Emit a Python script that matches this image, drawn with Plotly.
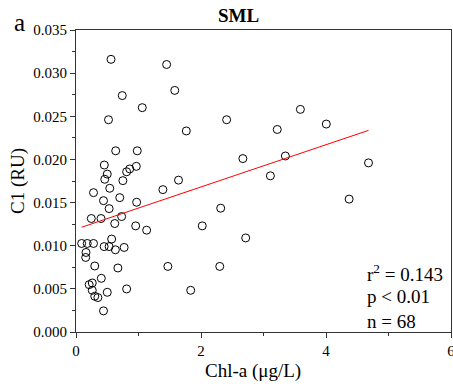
import plotly.graph_objects as go

# Chl-a (µg/L)
chla = [0.56, 1.45, 0.74, 1.58, 1.06, 0.52, 1.765, 0.635, 0.98, 0.453,
        0.50, 0.46, 0.81, 0.86, 0.965, 0.75, 0.54, 0.28, 1.39, 0.44,
        0.70, 0.97, 0.53, 0.245, 0.40, 0.73, 0.62, 0.955, 1.13, 0.09,
        0.18, 0.28, 0.45, 0.53, 0.57, 0.63, 0.77, 0.16, 0.155, 0.30,
        0.67, 0.405, 0.26, 0.21, 0.26, 0.30, 0.35, 0.50, 0.81, 0.44,
        1.64, 2.41, 3.59, 3.22, 4.005, 2.67, 3.35, 4.68, 3.11, 2.315,
        2.02, 2.715, 2.30, 4.37, 1.47, 1.835]
# C1 (RU)
c1 = [0.0316, 0.0310, 0.0274, 0.0280, 0.0260, 0.0246, 0.0233, 0.0210, 0.0210, 0.01935,
      0.0183, 0.0177, 0.01857, 0.0189, 0.0192, 0.01754, 0.01666, 0.01615, 0.0165, 0.01522,
      0.01557, 0.01504, 0.0143, 0.01315, 0.01315, 0.01338, 0.01257, 0.0123, 0.0118, 0.01026,
      0.01026, 0.01026, 0.0099, 0.0099, 0.01077, 0.00953, 0.0098, 0.00922, 0.00864, 0.00765,
      0.00742, 0.00622, 0.00568, 0.00549, 0.00483, 0.00414, 0.00399, 0.0046, 0.00499, 0.00245,
      0.0176, 0.0246, 0.0258, 0.02347, 0.0241, 0.0201, 0.0204, 0.0196, 0.0181, 0.01435,
      0.0123, 0.0109, 0.0076, 0.0154, 0.0076, 0.00483]

# regression line
fit_slope = 0.002446
fit_intercept = 0.01192
fit_x = [min(chla), max(chla)]
fit_y = [fit_intercept + fit_slope * v for v in fit_x]

x_ticks = [0, 2, 4, 6]
stats_lines = ["r<sup>2</sup> = 0.143", "p < 0.01", "n = 68"]
stats_y = [0.00686, 0.00415, 0.00125]

serif = "Liberation Serif, Times New Roman, serif"

W, H = 453, 387
ml, mr, mt, mb = 76, 2, 30, 55
pw, ph = W - ml - mr, H - mt - mb


def px2paper(px, py):
    return (px - ml) / pw, (H - mb - py) / ph


fig = go.Figure()
fig.add_trace(go.Scatter(
    x=chla, y=c1, mode="markers",
    marker=dict(symbol="circle-open", size=8, color="black", line=dict(width=1, color="black")),
    showlegend=False, cliponaxis=False))
fig.add_trace(go.Scatter(
    x=fit_x, y=fit_y, mode="lines",
    line=dict(color="red", width=1), showlegend=False))

tickfont = dict(family=serif, size=15, color="black")
axis_common = dict(showline=True, linecolor="#333", linewidth=1, mirror=True,
                   showgrid=False, zeroline=False, ticks="outside", ticklen=5,
                   tickcolor="#333", automargin=False, ticklabeloverflow="allow")

fig.update_layout(
    xaxis=dict(range=[0, 6], tickmode="array", tickvals=x_ticks,
               ticktext=[str(v) for v in x_ticks], tickfont=tickfont,
               minor=dict(tickvals=[1, 3, 5], ticks="outside", ticklen=3, tickcolor="#333"),
               **axis_common),
    yaxis=dict(range=[0, 0.035], dtick=0.005, tickformat=".3f", tickfont=tickfont,
               minor=dict(dtick=0.0025, ticks="outside", ticklen=3, tickcolor="#333"),
               **axis_common),
)

annotations = []
for txt, yy in zip(stats_lines, stats_y):
    annotations.append(dict(x=4.62, y=yy, xref="x", yref="y", text=txt, showarrow=False,
                            xanchor="left", yanchor="middle",
                            font=dict(family=serif, size=19, color="black")))

for txt, (px, py), size, extra in [
    ("<b>SML</b>", (238, 15), 19, {}),
    ("a", (19.5, 22), 25, {}),
    ("Chl-a (μg/L)", (253, 371), 19, {}),
    ("C1 (RU)", (18, 181), 19, {"textangle": -90}),
]:
    xp, yp = px2paper(px, py)
    d = dict(x=xp, y=yp, xref="paper", yref="paper", text=txt, showarrow=False,
             xanchor="center", yanchor="middle",
             font=dict(family=serif, size=size, color="black"))
    d.update(extra)
    annotations.append(d)

fig.update_layout(
    annotations=annotations,
    width=W, height=H,
    margin=dict(l=ml, r=mr, t=mt, b=mb, autoexpand=False),
    plot_bgcolor="white", paper_bgcolor="white",
    font=dict(family=serif, color="black"),
)

fig.write_html("out.html", config={"displayModeBar": False},
               post_script="document.body.style.margin='0px';")
